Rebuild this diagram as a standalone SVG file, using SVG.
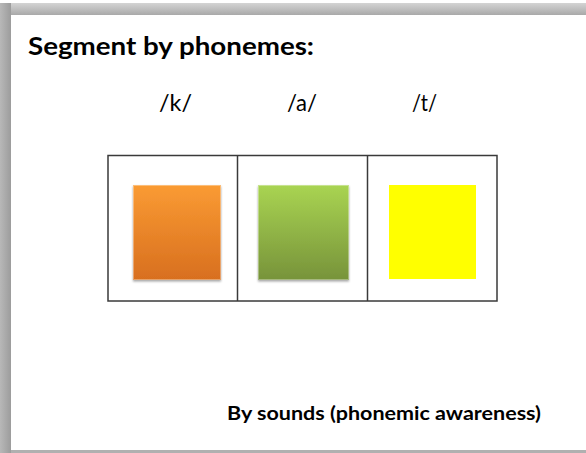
<svg xmlns="http://www.w3.org/2000/svg" width="586" height="453" viewBox="0 0 586 453">
<defs>
<linearGradient id="topband" x1="0" y1="0" x2="0" y2="1">
<stop offset="0" stop-color="#d4d4d4"/>
<stop offset="1" stop-color="#a9a9a9"/>
</linearGradient>
<linearGradient id="leftband" x1="0" y1="0" x2="1" y2="0">
<stop offset="0" stop-color="#b8b8b8"/>
<stop offset="1" stop-color="#9c9c9c"/>
</linearGradient>
<linearGradient id="orange" x1="0" y1="0" x2="0" y2="1">
<stop offset="0" stop-color="#fa9b33"/>
<stop offset="1" stop-color="#d86f1f"/>
</linearGradient>
<linearGradient id="green" x1="0" y1="0" x2="0" y2="1">
<stop offset="0" stop-color="#a9d452"/>
<stop offset="1" stop-color="#77933a"/>
</linearGradient>
<filter id="sh" x="-10%" y="-10%" width="120%" height="125%">
<feDropShadow dx="0" dy="1.5" stdDeviation="1.2" flood-color="#000" flood-opacity="0.35"/>
</filter>
<style>
.title{font-family:Lato,"Open Sans","Liberation Sans",sans-serif;font-weight:bold;fill:#000}
.ph{font-family:Lato,"Open Sans","Liberation Sans",sans-serif;font-size:24px;fill:#000}
.cell{fill:none;stroke:#3a3a3a;stroke-width:1.5}
.bevel{fill:none;stroke:#ffffff;stroke-opacity:0.35;stroke-width:1}
</style>
</defs>
<rect x="0" y="0" width="586" height="453" fill="#ffffff"/>
<rect x="0" y="3" width="586" height="12" fill="url(#topband)"/>
<rect x="0" y="3" width="11" height="450" fill="url(#leftband)"/>
<rect x="11" y="450" width="575" height="3" fill="#b0b0b0"/>
<text class="title" x="28" y="55" font-size="25" textLength="286" lengthAdjust="spacingAndGlyphs">Segment by phonemes:</text>
<g id="labels">
<text class="ph" x="159" y="111" textLength="33" lengthAdjust="spacingAndGlyphs">/k/</text>
<text class="ph" x="287" y="111" textLength="30" lengthAdjust="spacingAndGlyphs">/a/</text>
<text class="ph" x="412" y="111" textLength="25" lengthAdjust="spacingAndGlyphs">/t/</text>
</g>
<g id="table">
<rect class="cell" x="108" y="155.5" width="389" height="145.5"/>
<line class="cell" x1="237.5" y1="155.5" x2="237.5" y2="301"/>
<line class="cell" x1="367.5" y1="155.5" x2="367.5" y2="301"/>
</g>
<g id="k-square"><rect x="133" y="185" width="88" height="95" fill="url(#orange)" filter="url(#sh)"/><rect class="bevel" x="133.5" y="185.5" width="87" height="94"/></g>
<g id="a-square"><rect x="258" y="185" width="91" height="95" fill="url(#green)" filter="url(#sh)"/><rect class="bevel" x="258.5" y="185.5" width="90" height="94"/></g>
<g id="t-square"><rect x="389" y="185" width="87" height="94" fill="#ffff00"/></g>
<text class="title" x="227" y="420" font-size="19.5" textLength="314" lengthAdjust="spacingAndGlyphs">By sounds (phonemic awareness)</text>
</svg>
